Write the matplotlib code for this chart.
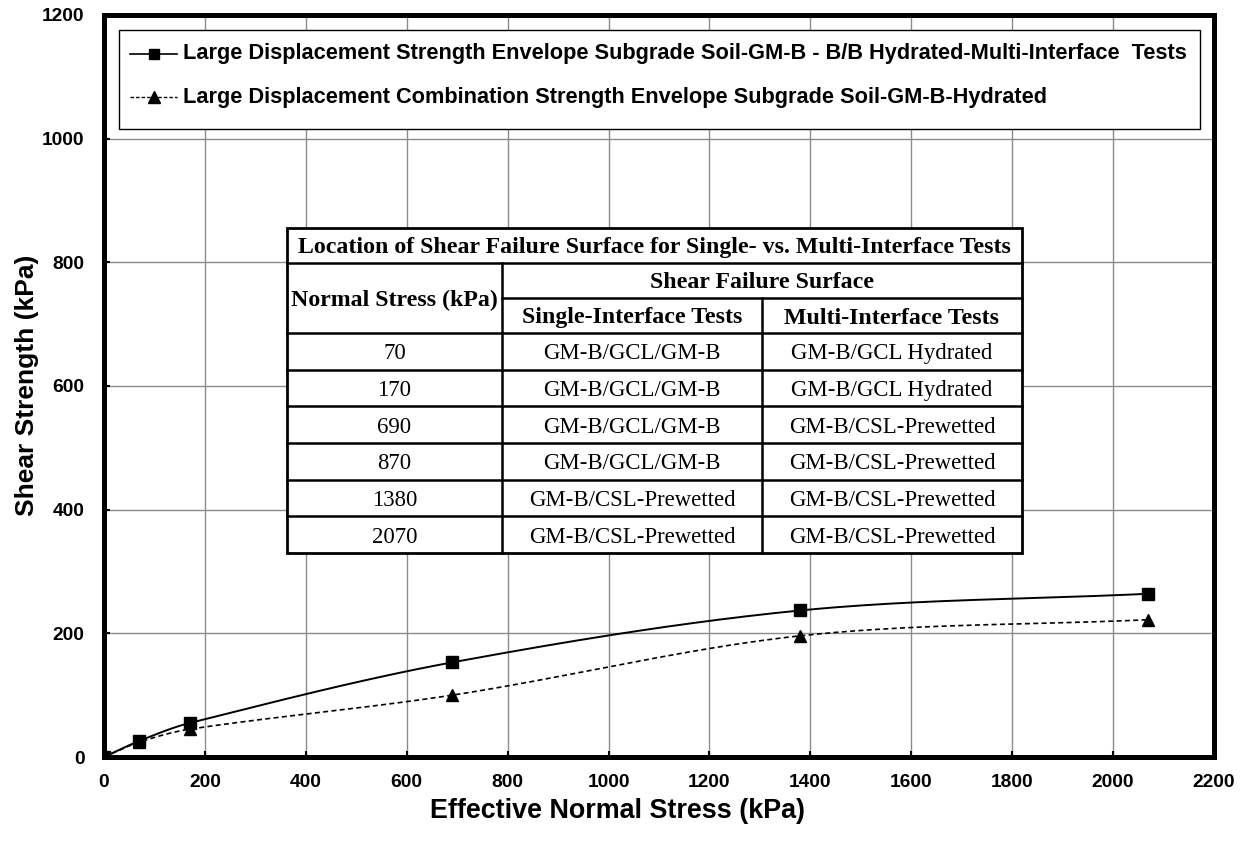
import numpy as np
import matplotlib
matplotlib.use("Agg")
import matplotlib.pyplot as plt
from matplotlib.lines import Line2D
from matplotlib.patches import Rectangle

# ---- data ----
normal_stress = [0, 70, 170, 690, 1380, 2070]
multi_interface = [0, 26, 55, 153, 237, 264]
combination = [0, 24, 45, 100, 196, 222]

label_multi = ("Large Displacement Strength Envelope Subgrade Soil-GM-B - B/B "
               "Hydrated-Multi-Interface  Tests")
label_comb = ("Large Displacement Combination Strength Envelope Subgrade "
              "Soil-GM-B-Hydrated")

table_title = "Location of Shear Failure Surface for Single- vs. Multi-Interface Tests"
table_stress = ["70", "170", "690", "870", "1380", "2070"]
table_single = ["GM-B/GCL/GM-B", "GM-B/GCL/GM-B", "GM-B/GCL/GM-B",
                "GM-B/GCL/GM-B", "GM-B/CSL-Prewetted", "GM-B/CSL-Prewetted"]
table_multi = ["GM-B/GCL Hydrated", "GM-B/GCL Hydrated", "GM-B/CSL-Prewetted",
               "GM-B/CSL-Prewetted", "GM-B/CSL-Prewetted", "GM-B/CSL-Prewetted"]

xticks = list(range(0, 2201, 200))
yticks = list(range(0, 1201, 200))

W, H = 1247, 844
plt.rcParams["font.family"] = ["Liberation Sans", "DejaVu Sans"]

fig = plt.figure(figsize=(W / 100, H / 100), dpi=100)
L, R, T, B = 104, 1214, 15, 757
ax = fig.add_axes([L / W, 1 - B / H, (R - L) / W, (B - T) / H])
ax.set_xlim(0, 2200)
ax.set_ylim(0, 1200)
ax.set_xticks(xticks)
ax.set_yticks(yticks)
ax.grid(True, color="#8c8c8c", linewidth=1.0)
ax.set_axisbelow(True)
for s in ax.spines.values():
    s.set_linewidth(3.6)
    s.set_color("black")
ax.tick_params(direction="in", length=4, width=1.5, labelsize=13.8)
ax.tick_params(axis="x", pad=12)
ax.tick_params(axis="y", pad=14)
for lab in ax.get_xticklabels() + ax.get_yticklabels():
    lab.set_fontweight("bold")
ax.set_xlabel("Effective Normal Stress (kPa)", fontsize=19.4, fontweight="bold")
ax.set_ylabel("Shear Strength (kPa)", fontsize=19, fontweight="bold")
ax.xaxis.set_label_coords((617 - L) / (R - L), -(811 - B) / (B - T))
ax.yaxis.set_label_coords(-(L - 27) / (R - L), (B - 385) / (B - T))
ax.xaxis.label.set_va("center")
ax.yaxis.label.set_va("center")

# pixel scale used for smoothing the envelopes
sx = (R - L) / 2200.0
sy = (B - T) / 1200.0


def smooth(xs, ys, n=40):
    P = np.column_stack([np.asarray(xs, float) * sx, np.asarray(ys, float) * sy])
    Pe = np.vstack([P[0], P, P[-1]])
    out = []
    for i in range(len(P) - 1):
        p0, p1, p2, p3 = Pe[i], Pe[i + 1], Pe[i + 2], Pe[i + 3]
        d01 = np.linalg.norm(p1 - p0)
        d12 = np.linalg.norm(p2 - p1)
        d23 = np.linalg.norm(p3 - p2)
        c1 = p1 + (p2 - p0) * d12 / (3.0 * (d01 + d12))
        c2 = p2 - (p3 - p1) * d12 / (3.0 * (d12 + d23))
        t = np.linspace(0, 1, n)[:, None]
        seg = ((1 - t) ** 3) * p1 + 3 * ((1 - t) ** 2) * t * c1 \
            + 3 * (1 - t) * t ** 2 * c2 + t ** 3 * p2
        out.append(seg if i == 0 else seg[1:])
    C = np.vstack(out)
    return C[:, 0] / sx, C[:, 1] / sy


cx, cy = smooth(normal_stress, multi_interface)
ax.plot(cx, cy, color="black", linewidth=1.4, zorder=3)
ax.plot(normal_stress, multi_interface, linestyle="none", marker="s",
        markersize=8, color="black", zorder=4)

dx, dy = smooth(normal_stress, combination)
ax.plot(dx, dy, color="black", linewidth=1.2, linestyle=(0, (3, 2)), zorder=3)
ax.plot(normal_stress, combination, linestyle="none", marker="^",
        markersize=8.5, color="black", zorder=4)


# ---- helpers in figure pixel coordinates ----
def fx(x):
    return x / W


def fy(y):
    return 1 - y / H


# legend box
fig.patches.append(Rectangle((fx(119), fy(129)), (1200 - 119) / W, (129 - 30) / H,
                             transform=fig.transFigure, facecolor="white",
                             edgecolor="black", linewidth=1.0, zorder=5))
for yy, ls, mk, ms, lw, txt in [(54, "-", "s", 7, 1.2, label_multi),
                                 (97, (0, (2.5, 1.5)), "^", 8, 1.0, label_comb)]:
    fig.add_artist(Line2D([fx(130), fx(177)], [fy(yy), fy(yy)], color="black",
                          linestyle=ls, linewidth=lw, transform=fig.transFigure, zorder=6))
    fig.add_artist(Line2D([fx(153.5)], [fy(yy)], color="black", marker=mk,
                          markersize=ms, linestyle="none",
                          transform=fig.transFigure, zorder=6))
    fig.text(fx(183), fy(yy), txt, fontsize=15.7, fontweight="bold",
             va="center", ha="left", zorder=6)

# inset table
cols = [287, 502, 762, 1022]
rows = [228, 263, 298, 333] + [333 + 36.67 * (k + 1) for k in range(6)]
tfont = ["Liberation Serif", "DejaVu Serif"]
fig.patches.append(Rectangle((fx(cols[0]), fy(rows[-1])), (cols[-1] - cols[0]) / W,
                             (rows[-1] - rows[0]) / H, transform=fig.transFigure,
                             facecolor="white", edgecolor="black", linewidth=2.0, zorder=5))


def hline(y, x0, x1, lw=1.8):
    fig.add_artist(Line2D([fx(x0), fx(x1)], [fy(y), fy(y)], color="black",
                          linewidth=lw, transform=fig.transFigure, zorder=6))


def vline(x, y0, y1, lw=1.8):
    fig.add_artist(Line2D([fx(x), fx(x)], [fy(y0), fy(y1)], color="black",
                          linewidth=lw, transform=fig.transFigure, zorder=6))


hline(rows[1], cols[0], cols[3])
hline(rows[2], cols[1], cols[3])
for r in rows[3:-1]:
    hline(r, cols[0], cols[3])
vline(cols[1], rows[1], rows[-1])
vline(cols[2], rows[2], rows[-1])


def cell(x0, x1, y0, y1, txt, bold=False, size=16.4):
    fig.text(fx((x0 + x1) / 2), fy((y0 + y1) / 2), txt, family=tfont,
             fontsize=size, fontweight="bold" if bold else "normal",
             ha="center", va="center_baseline", zorder=7)


cell(cols[0], cols[3], rows[0], rows[1], table_title, bold=True, size=17.2)
cell(cols[0], cols[1], rows[1], rows[3], "Normal Stress (kPa)", bold=True, size=17.2)
cell(cols[1], cols[3], rows[1], rows[2], "Shear Failure Surface", bold=True, size=17.2)
cell(cols[1], cols[2], rows[2], rows[3], "Single-Interface Tests", bold=True, size=17.2)
cell(cols[2], cols[3], rows[2], rows[3], "Multi-Interface Tests", bold=True, size=17.2)
for k in range(6):
    y0, y1 = rows[3 + k], rows[4 + k]
    cell(cols[0], cols[1], y0, y1, table_stress[k])
    cell(cols[1], cols[2], y0, y1, table_single[k])
    cell(cols[2], cols[3], y0, y1, table_multi[k])

fig.savefig("out.png", dpi=100)
